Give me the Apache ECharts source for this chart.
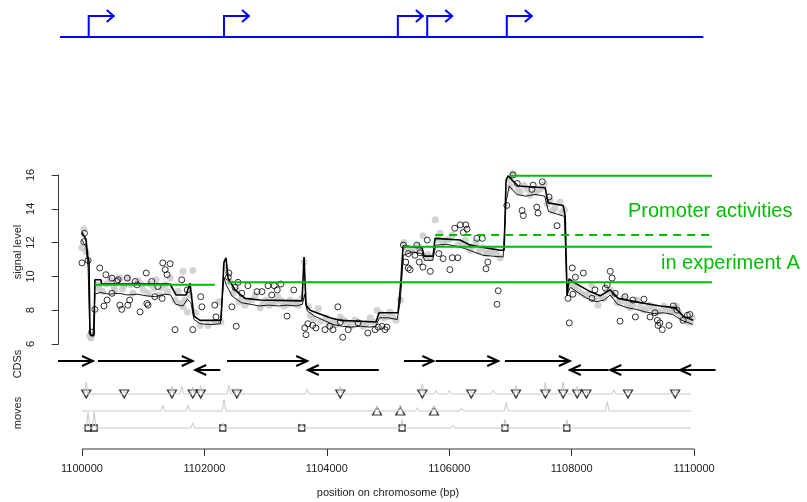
<!DOCTYPE html>
<html><head><meta charset="utf-8">
<script src="https://cdn.jsdelivr.net/npm/echarts@6/dist/echarts.min.js"></script>
<style>html,body{margin:0;padding:0;background:#fff}#c{width:807px;height:502px}</style>
</head><body><div id="c"></div>
<script>
// ---------------- data ----------------
const xTicks = [1100000, 1102000, 1104000, 1106000, 1108000, 1110000];
const trackRange = [1099640, 1110150];
const promoterPos = [1100110, 1102320, 1105160, 1105640, 1106940];

const cdsStart  = [1099610, 1100260, 1101850, 1102370, 1103690, 1105260, 1105780, 1106910, 1107970, 1108630, 1109770];
const cdsEnd    = [1100180, 1101810, 1102260, 1103680, 1104850, 1105740, 1106800, 1107970, 1108600, 1109770, 1110350];
const cdsStrand = [1, 1, -1, 1, -1, 1, 1, 1, -1, -1, -1];

const greenStart  = [1100210, 1102380, 1105250, 1105770, 1106990];
const greenEnd    = [1102170, 1110290, 1110290, 1110290, 1110290];
const greenLevel  = [9.5, 9.65, 11.75, 12.45, 15.95];
const greenDashed = [false, false, false, true, false];

const stepPos = [1100000,1100065,1100098,1100115,1100130,1100147,1100196,1100212,1100310,1100320,1101438,1101470,1101536,1101700,1101765,1101797,1101830,1101928,1102271,1102320,1102353,1102386,1102500,1102663,1102909,1103595,1103628,1103660,1103726,1104052,1104216,1104804,1104853,1105163,1105212,1105245,1105556,1105588,1105735,1105768,1106177,1106340,1106830,1106896,1106928,1106961,1107026,1107124,1107566,1107615,1107860,1107893,1107925,1107958,1108056,1108301,1108464,1108627,1108758,1109118,1109445,1109690,1109820,1109984];
const stepVal = [12.6,12.2,11.1,10.9,6.8,6.5,6.5,9.8,9.8,9.55,9.55,9.5,8.9,8.9,9.6,8.6,7.65,7.4,7.4,10.85,11.1,9.9,9.2,8.7,8.6,8.55,11.15,8.3,8.0,7.55,7.4,7.3,7.85,7.85,9.8,11.8,11.7,11.2,11.2,12.25,12.15,11.85,11.55,11.55,15.7,15.95,15.7,15.35,15.25,14.35,14.2,13.6,8.85,9.85,9.6,9.1,8.85,9.2,8.7,8.45,8.25,8.15,7.65,7.4];

const bandPos = [1100000,1100065,1100100,1100130,1100180,1100212,1100300,1100450,1100600,1100750,1100900,1101050,1101200,1101350,1101450,1101530,1101650,1101720,1101780,1101830,1101930,1102100,1102260,1102320,1102350,1102450,1102600,1102750,1102900,1103050,1103200,1103350,1103500,1103600,1103640,1103680,1103800,1103950,1104100,1104250,1104400,1104550,1104700,1104800,1104860,1105000,1105150,1105200,1105250,1105400,1105550,1105600,1105730,1105780,1105950,1106100,1106250,1106400,1106550,1106700,1106880,1106930,1106980,1107100,1107250,1107400,1107560,1107620,1107750,1107880,1107925,1107980,1108100,1108250,1108400,1108530,1108630,1108750,1108900,1109050,1109200,1109350,1109500,1109650,1109800,1109980];
const bandLo = [12.15,11.75,10.55,6.55,6.45,8.95,9.05,8.95,9.0,8.9,8.95,8.85,8.8,8.95,8.9,8.35,8.25,8.65,8.45,7.45,7.2,7.15,7.2,9.95,9.55,8.85,8.45,8.35,8.25,8.3,8.25,8.3,8.25,8.35,8.95,7.95,7.65,7.4,7.15,7.05,7.0,7.05,7.0,7.05,7.55,7.55,7.45,8.55,11.25,11.45,11.35,10.95,10.95,11.85,11.9,11.8,11.65,11.45,11.25,11.2,11.15,14.45,15.35,14.85,14.75,14.85,14.75,13.85,13.7,13.55,8.95,9.35,9.05,8.7,8.5,8.6,8.9,8.35,8.15,8.05,7.9,7.8,7.85,7.75,7.4,7.15];
const bandHi = [12.65,12.35,11.15,7.05,6.95,9.55,9.45,9.4,9.4,9.35,9.4,9.3,9.25,9.4,9.35,8.8,8.75,9.15,8.95,7.95,7.65,7.55,7.6,10.65,10.15,9.35,8.85,8.8,8.7,8.75,8.65,8.75,8.7,8.85,9.65,8.45,8.1,7.85,7.55,7.45,7.4,7.45,7.4,7.45,8.05,8.05,7.95,9.25,11.75,11.95,11.85,11.45,11.4,12.35,12.35,12.25,12.1,11.9,11.7,11.65,11.6,15.25,15.85,15.35,15.2,15.35,15.2,14.35,14.15,14.05,9.65,9.85,9.55,9.15,8.95,9.05,9.35,8.8,8.55,8.45,8.3,8.25,8.25,8.2,7.85,7.6];

const circlePoints = [[1100030,12.05],[1100040,12.55],[1100000,10.8],[1100100,10.95],[1100160,6.7],[1100290,10.5],[1100210,8.05],[1100390,10.1],[1100410,8.6],[1100360,8.25],[1100490,9.9],[1100490,9.0],[1100590,9.8],[1100620,8.3],[1100650,8.05],[1100570,9.7],[1100740,9.9],[1100750,8.3],[1100780,8.6],[1100870,9.7],[1100900,9.5],[1100950,7.9],[1101050,10.2],[1101060,8.4],[1101080,8.3],[1101140,9.7],[1101190,8.8],[1101240,9.4],[1101320,10.8],[1101440,10.75],[1101360,10.4],[1101390,10.1],[1101310,8.7],[1101630,9.8],[1101720,9.2],[1101520,6.85],[1101810,6.85],[1101940,8.8],[1101960,8.2],[1102170,8.3],[1102190,7.6],[1102450,8.2],[1102400,10.2],[1102390,9.95],[1102520,7.05],[1102550,9.65],[1102710,9.45],[1102500,9.35],[1102610,9.0],[1102860,9.1],[1102940,9.1],[1103040,9.45],[1103140,9.45],[1103250,9.55],[1103190,9.2],[1103100,8.9],[1103460,9.2],[1103350,7.65],[1103640,6.95],[1103660,6.55],[1103690,7.2],[1103770,7.1],[1103820,6.95],[1103970,6.85],[1104050,7.05],[1104100,6.85],[1104260,6.4],[1104180,8.2],[1104220,7.3],[1104350,6.85],[1104510,7.25],[1104670,6.65],[1104790,6.85],[1104840,7.0],[1104900,7.05],[1104950,6.85],[1104980,7.0],[1105290,10.85],[1105330,10.5],[1105360,10.4],[1105330,11.35],[1105250,11.85],[1105510,10.85],[1105570,10.55],[1105690,10.3],[1105640,12.15],[1105470,11.85],[1105520,11.4],[1105440,11.25],[1105830,11.35],[1105900,11.05],[1106010,10.4],[1106050,11.1],[1106140,11.1],[1106090,12.85],[1106180,13.05],[1106270,13.05],[1106230,12.6],[1106290,12.8],[1106450,12.25],[1106540,12.25],[1106630,10.85],[1106600,10.45],[1106800,9.15],[1106780,8.35],[1106940,14.2],[1107110,15.5],[1107350,15.15],[1107520,15.6],[1107190,13.9],[1107210,13.6],[1107430,14.1],[1107450,13.75],[1107630,14.7],[1107760,13.0],[1107040,16.0],[1107370,15.4],[1107940,8.7],[1107960,7.25],[1108010,10.5],[1108060,9.95],[1108190,10.2],[1108020,8.95],[1108380,9.2],[1108330,8.7],[1108630,10.3],[1108660,9.9],[1108580,9.5],[1108550,9.3],[1108710,9.0],[1108790,7.35],[1108870,8.8],[1109000,8.6],[1109040,7.6],[1109180,8.65],[1109280,7.6],[1109360,7.85],[1109400,7.4],[1109410,7.1],[1109480,6.85],[1109440,7.25],[1109590,7.1],[1109660,8.25],[1109720,8.0],[1109890,7.7],[1109930,7.75],[1109820,7.4]];

const greyPoints = [[1100030,12.8],[1100000,11.7],[1100070,11.45],[1100150,6.35],[1100130,6.5],[1100260,9.5],[1100340,9.1],[1100460,9.8],[1100540,9.2],[1100620,9.9],[1100690,9.45],[1100750,9.9],[1100830,9.0],[1100920,9.75],[1101000,9.2],[1101110,9.55],[1101210,9.8],[1101270,8.9],[1101360,9.5],[1101440,9.9],[1101650,10.3],[1101570,9.1],[1101680,8.6],[1101760,8.9],[1101810,10.35],[1101650,8.2],[1101720,7.9],[1101850,7.85],[1101930,7.1],[1102060,7.1],[1102170,7.3],[1102270,7.3],[1102240,8.5],[1102340,10.5],[1102420,9.65],[1102520,9.2],[1102610,8.7],[1102710,8.5],[1102830,8.85],[1102910,8.15],[1103010,8.6],[1103100,8.45],[1103200,8.8],[1103300,8.25],[1103400,8.6],[1103500,8.5],[1103590,8.7],[1103630,10.85],[1103730,7.7],[1103860,8.1],[1103990,7.55],[1104100,7.3],[1104220,7.6],[1104330,7.2],[1104460,7.4],[1104590,7.05],[1104710,7.55],[1104820,8.0],[1104920,7.55],[1105030,7.9],[1105130,7.4],[1105200,8.6],[1105260,12.0],[1105360,11.55],[1105490,11.8],[1105600,11.2],[1105690,11.1],[1105570,12.4],[1105770,13.35],[1105850,12.55],[1105950,12.15],[1106050,12.45],[1106140,11.85],[1106260,12.15],[1106340,11.55],[1106440,12.05],[1106540,11.7],[1106630,11.4],[1106730,11.55],[1106830,11.1],[1107040,16.1],[1106990,15.7],[1107120,15.1],[1107220,15.4],[1107320,14.8],[1107450,15.1],[1107550,15.45],[1107650,14.5],[1107730,14.05],[1107810,14.4],[1107880,13.95],[1108010,9.5],[1108100,9.2],[1108220,8.9],[1108330,9.5],[1108430,8.3],[1108530,8.7],[1108630,9.2],[1108740,8.45],[1108860,8.7],[1108950,8.15],[1109070,8.6],[1109180,8.0],[1109280,8.3],[1109400,7.9],[1109510,8.25],[1109610,7.9],[1109710,8.25],[1109800,7.55],[1109900,7.3],[1109970,7.55],
[1100280,9.3],[1100400,9.55],[1100520,9.4],[1100660,9.25],[1100800,9.5],[1100980,9.5],[1101080,9.0],[1101180,9.3],[1101300,9.35],[1101400,9.1],[1101520,8.6],[1101600,8.4],
[1102470,9.0],[1102560,8.5],[1102660,8.3],[1102780,8.6],[1102960,8.4],[1103060,8.3],[1103160,8.5],[1103260,8.55],[1103360,8.35],[1103460,8.4],[1103540,8.3],
[1103700,8.2],[1103780,7.5],[1103900,7.35],[1104030,7.2],[1104160,7.15],[1104280,7.4],[1104400,7.1],[1104520,7.25],[1104650,7.2],[1104760,7.3],[1104880,7.8],[1104980,7.6],[1105080,7.6],
[1105300,11.7],[1105420,11.5],[1105520,11.6],[1105650,11.3],[1105820,12.2],[1105900,12.0],[1106000,12.2],[1106200,11.95],[1106300,11.8],[1106380,11.75],[1106490,11.5],[1106600,11.35],[1106680,11.45],[1106780,11.3],
[1107000,15.3],[1107160,15.0],[1107280,15.15],[1107400,14.95],[1107500,15.2],[1107600,14.3],[1107690,13.9],[1107840,13.8],
[1108050,9.4],[1108160,9.0],[1108280,8.95],[1108380,8.7],[1108480,8.8],[1108580,9.1],[1108680,8.9],[1108800,8.5],[1108910,8.35],[1109000,8.3],[1109120,8.2],[1109230,8.1],[1109340,8.05],[1109460,7.95],[1109560,8.05],[1109660,7.95],[1109760,7.8],[1109850,7.5],[1109940,7.35]];

const movesRange = [1100000, 1109950];
const movesDownPos = [1100070,1100690,1101470,1101810,1101940,1102530,1104220,1105560,1106360,1107090,1107570,1107860,1108090,1108240,1108920,1109690];
const movesUpPos = [1104820,1105200,1105750];
const movesSquarePos = [1100100,1100200,1102300,1103590,1105230,1106910,1107920];
const downSpikes = [[1100070,0.7],[1100450,0.1],[1100690,0.15],[1100900,0.1],[1101470,0.45],[1101630,0.45],[1101810,0.4],[1101940,0.5],[1102400,0.5],[1102530,0.35],[1102900,0.1],[1103200,0.1],[1103680,0.3],[1104220,0.45],[1104600,0.1],[1105000,0.1],[1105560,0.6],[1105780,0.2],[1106000,0.2],[1106360,0.15],[1106720,0.25],[1107090,0.5],[1107570,0.7],[1107860,0.7],[1108090,0.45],[1108240,0.2],[1108500,0.1],[1108690,0.25],[1108920,0.2],[1109300,0.1],[1109690,0.25]];
const upSpikes = [[1100800,0.1],[1101320,0.35],[1101730,0.35],[1102320,0.65],[1103400,0.1],[1104820,0.3],[1105200,0.35],[1105480,0.2],[1105750,0.3],[1106200,0.15],[1106500,0.1],[1106930,0.5],[1107500,0.1],[1108580,0.55],[1109400,0.1]];
const squareSpikes = [[1100100,0.9],[1100200,0.9],[1101810,0.3],[1102300,0.3],[1103590,0.25],[1105230,0.5],[1106060,0.15],[1106910,0.5],[1107920,0.5]];

// ---------------- chart ----------------
const XMIN = 1099620, XMAX = 1110390;
const L = 58.7, W = 659.3;
const FONT = '"Liberation Sans", Arial, Helvetica, sans-serif';
const GREEN = '#00BE00';
const grids = [
  {left: L, width: W, top: 16, height: 21},
  {left: L, width: W, top: 175, height: 169},
  {left: L, width: W, top: 361, height: 9},
  {left: L, width: W, top: 377, height: 51},
  {left: L, width: W, top: 440, height: 9}
];
const xAxes = grids.map((g, i) => ({type: 'value', gridIndex: i, min: XMIN, max: XMAX, show: false}));
xAxes[4] = {
  type: 'value', gridIndex: 4, min: XMIN, max: XMAX, position: 'bottom',
  axisLine: {show: false}, splitLine: {show: false},
  axisTick: {show: true, customValues: xTicks, length: 7, lineStyle: {color: '#333', width: 1}},
  axisLabel: {show: true, customValues: xTicks, margin: 14, fontSize: 11, color: '#222', fontFamily: FONT,
    formatter: v => String(v)}
};
const yAxes = [
  {type: 'value', gridIndex: 0, min: 0, max: 1, show: false},
  {type: 'value', gridIndex: 1, min: 6, max: 16, interval: 2,
   axisLine: {show: true, lineStyle: {color: '#333', width: 1}},
   axisTick: {show: true, length: 7, lineStyle: {color: '#333', width: 1}},
   axisLabel: {rotate: 90, margin: 22, fontSize: 11, color: '#222', fontFamily: FONT},
   splitLine: {show: false}},
  {type: 'value', gridIndex: 2, min: 0, max: 1, show: false},
  {type: 'value', gridIndex: 3, min: 0, max: 3, show: false},
  {type: 'value', gridIndex: 4, min: 0, max: 1, show: false}
];

function rowLine(base, spikes) {
  const pts = [[movesRange[0], base]];
  spikes.slice().sort((a, b) => a[0] - b[0]).forEach(s => {
    pts.push([s[0] - 30, base], [s[0], base + s[1]], [s[0] + 30, base]);
  });
  pts.push([movesRange[1], base]);
  return pts;
}

const series = [];
// top promoter track
series.push({type: 'line', xAxisIndex: 0, yAxisIndex: 0, data: trackRange.map(p => [p, 0]),
  symbol: 'none', lineStyle: {color: '#0000FF', width: 2}, clip: false, silent: true});
series.push({type: 'custom', xAxisIndex: 0, yAxisIndex: 0, clip: false, silent: true,
  data: promoterPos.map(p => [p]), encode: {x: 0},
  renderItem: (params, api) => {
    const base = api.coord([api.value(0), 0]);
    const top = api.coord([api.value(0), 1]);
    const tip = [top[0] + 25, top[1]];
    const st = {stroke: '#0000FF', lineWidth: 2, fill: null};
    return {type: 'group', children: [
      {type: 'polyline', shape: {points: [base, top, tip]}, style: st},
      {type: 'polyline', shape: {points: [[tip[0] - 7, tip[1] - 6], tip, [tip[0] - 7, tip[1] + 6]]}, style: st}
    ]};
  }});

// signal panel
series.push({type: 'scatter', xAxisIndex: 1, yAxisIndex: 1, data: greyPoints, symbolSize: 7,
  itemStyle: {color: '#C8C8C8'}, clip: false, silent: true});
series.push({type: 'line', xAxisIndex: 1, yAxisIndex: 1, stack: 'band', symbol: 'none',
  data: bandPos.map((p, i) => [p, bandLo[i]]), lineStyle: {color: '#000', width: 0.9}, clip: false, silent: true});
series.push({type: 'line', xAxisIndex: 1, yAxisIndex: 1, stack: 'band', symbol: 'none',
  data: bandPos.map((p, i) => [p, bandHi[i] - bandLo[i]]), lineStyle: {color: '#000', width: 0.9},
  areaStyle: {color: '#999999', opacity: 1}, clip: false, silent: true});
series.push({type: 'line', xAxisIndex: 1, yAxisIndex: 1, symbol: 'none',
  data: stepPos.map((p, i) => [p, stepVal[i]]), lineStyle: {color: '#000', width: 1.6}, clip: false, silent: true});
series.push({type: 'scatter', xAxisIndex: 1, yAxisIndex: 1, data: circlePoints, symbolSize: 6,
  itemStyle: {color: 'rgba(0,0,0,0)', borderColor: '#000', borderWidth: 1}, clip: false, silent: true});
greenLevel.forEach((v, i) => {
  series.push({type: 'line', xAxisIndex: 1, yAxisIndex: 1, symbol: 'none', clip: false, silent: true,
    data: [[greenStart[i], v], [greenEnd[i], v]],
    lineStyle: {color: GREEN, width: 2, type: greenDashed[i] ? [8, 6] : 'solid'}});
});

// CDS panel
series.push({type: 'custom', xAxisIndex: 2, yAxisIndex: 2, clip: false, silent: true,
  data: cdsStart.map((s, i) => [s, cdsEnd[i], cdsStrand[i] > 0 ? 1 : 0, cdsStrand[i]]),
  encode: {x: [0, 1], y: 2},
  renderItem: (params, api) => {
    const y = api.value(2), dir = api.value(3);
    const a = api.coord([api.value(0), y]);
    const b = api.coord([api.value(1), y]);
    const st = {stroke: '#000', lineWidth: 2, fill: null};
    const tip = dir > 0 ? b : a;
    const back = dir > 0 ? -11 : 11;
    return {type: 'group', children: [
      {type: 'line', shape: {x1: a[0], y1: a[1], x2: b[0], y2: b[1]}, style: st},
      {type: 'polyline', shape: {points: [[tip[0] + back, tip[1] - 5], tip, [tip[0] + back, tip[1] + 5]]}, style: st}
    ]};
  }});

// moves panel
[[2, downSpikes], [1, upSpikes], [0, squareSpikes]].forEach(r => {
  series.push({type: 'line', xAxisIndex: 3, yAxisIndex: 3, symbol: 'none', data: rowLine(r[0], r[1]),
    lineStyle: {color: '#C8C8C8', width: 1}, clip: false, silent: true});
});
const mk = {color: '#fff', borderColor: '#000', borderWidth: 1.3};
series.push({type: 'scatter', xAxisIndex: 3, yAxisIndex: 3, data: movesDownPos.map(p => [p, 2]),
  symbol: 'triangle', symbolRotate: 180, symbolSize: [9, 8], itemStyle: mk, clip: false, silent: true});
series.push({type: 'scatter', xAxisIndex: 3, yAxisIndex: 3, data: movesUpPos.map(p => [p, 1]),
  symbol: 'triangle', symbolSize: [9, 8], itemStyle: mk, clip: false, silent: true});
series.push({type: 'scatter', xAxisIndex: 3, yAxisIndex: 3, data: movesSquarePos.map(p => [p, 0]),
  symbol: 'rect', symbolSize: 6, itemStyle: mk, clip: false, silent: true});

// bottom axis line
series.push({type: 'line', xAxisIndex: 4, yAxisIndex: 4, symbol: 'none',
  data: [[xTicks[0], 0], [xTicks[xTicks.length - 1], 0]], lineStyle: {color: '#333', width: 1}, clip: false, silent: true});

function txt(text, x, y, size, color, rot, align) {
  return {type: 'text', x: x, y: y, rotation: rot || 0, silent: true,
    style: {text: text, fill: color, fontSize: size, fontFamily: FONT,
      align: align || 'center', textAlign: align || 'center', verticalAlign: 'middle', textVerticalAlign: 'middle'}};
}

const chart = echarts.init(document.getElementById('c'), null, {renderer: 'canvas'});
chart.setOption({
  animation: false,
  backgroundColor: '#fff',
  grid: grids,
  xAxis: xAxes,
  yAxis: yAxes,
  series: series,
  graphic: [
    txt('signal level', 18, 252, 11, '#222', Math.PI / 2),
    txt('CDSs', 18, 364, 11, '#222', Math.PI / 2),
    txt('moves', 18, 413, 11, '#222', Math.PI / 2),
    txt('position on chromosome (bp)', 388, 493, 11, '#222', 0),
    txt('Promoter activities', 628, 211, 20, GREEN, 0, 'left'),
    txt('in experiment A', 661, 263, 20, GREEN, 0, 'left')
  ]
});
</script>
</body></html>
